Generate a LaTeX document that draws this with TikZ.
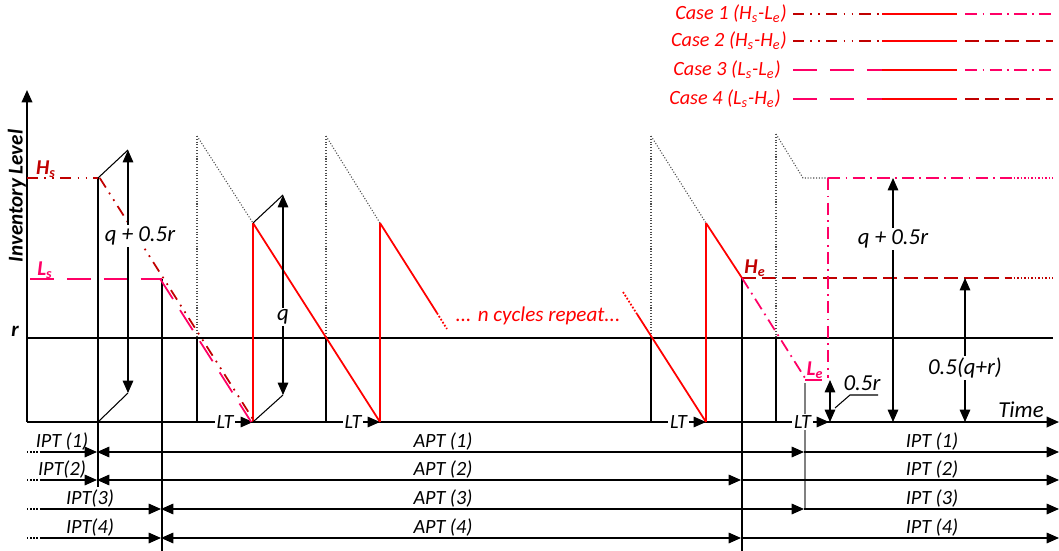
\documentclass[tikz,border=0pt]{standalone}
\usepackage{fontspec}
\setmainfont{Carlito}
\usetikzlibrary{arrows.meta}
\definecolor{hsred}{RGB}{192,0,0}
\definecolor{cyred}{RGB}{255,0,0}
\definecolor{lspink}{RGB}{255,0,102}

\begin{document}
\begin{tikzpicture}[x=0.02cm,y=-0.02cm,
  font=\itshape\fontsize{13}{15}\selectfont,
  axis/.style={line width=1pt},
  thinv/.style={line width=0.6pt},
  rowl/.style={line width=0.8pt},
  guide/.style={black!70,densely dotted,line width=0.6pt},
  cyc/.style={cyred,line width=1pt},
  hsline/.style={hsred,line width=1pt,dash pattern=on 6.4pt off 3.5pt on 1pt off 3.5pt on 1pt off 3.5pt},
  lsline/.style={lspink,line width=1pt,dash pattern=on 13.5pt off 7.5pt},
  heline/.style={hsred,line width=1pt,dash pattern=on 8pt off 3.5pt},
  leline/.style={lspink,line width=1pt,dash pattern=on 7pt off 3pt on 1pt off 3pt},
  solidred/.style={cyred,line width=1pt},
  tip/.style={-{Triangle[length=7pt,width=6pt]}},
  dim/.style={{Triangle[length=7pt,width=6pt]}-{Triangle[length=7pt,width=6pt]}},
  ext/.style={line width=0.6pt},
  lbl/.style={fill=white,inner sep=1pt},
  lt/.style={fill=white,inner sep=1pt,font=\itshape\fontsize{11.5}{13}\selectfont},
  lev/.style={font=\bfseries\itshape\fontsize{12}{14}\selectfont},
  small/.style={font=\itshape\fontsize{11.5}{13}\selectfont}
]
\useasboundingbox (0,0) rectangle (1059,551);

% Axes
\coordinate (O) at (27,422);
\coordinate (ytop) at (27,90);
\coordinate (xend) at (1059,422);
\coordinate (r0) at (27,338);
\coordinate (r1) at (1053,338);
\draw[axis] (r0) -- (r1);
\draw[axis,tip] (O) -- (ytop);
\draw[axis,tip] (O) -- (xend);
\node[lev] (rlab) at (15,331) {r};
\node[lev,rotate=90] (ylab) at (17,196) {Inventory Level};
\node (tlab) at (1021,410) {Time};

% Starting levels
\coordinate (hs0) at (27,178);
\coordinate (hs) at (98,178);
\coordinate (hsb) at (98,487);
\coordinate (ls0) at (30,279);
\coordinate (ls) at (162,279);
\coordinate (lsb) at (162,551);
\draw[thinv] (hs) -- (hsb);
\draw[thinv] (ls) -- (lsb);
\draw[hsline] (hs0) -- (hs);
\draw[lsline] (ls0) -- (ls);
\node[lev,hsred] (hslab) at (46,169) {H\textsubscript{s}};
\node[lev,lspink] (lslab) at (45,270) {L\textsubscript{s}};

% Cycles
\foreach \n/\xr/\xa in {1/197/253, 2/326/380, 3/651/706} {
  \coordinate (top\n) at (\xr,136);
  \coordinate (rp\n) at (\xr,338);
  \coordinate (ro\n) at (\xr,422);
  \coordinate (ar\n) at (\xa,422);
  \coordinate (aq\n) at (\xa,223);
  \draw[guide] (top\n) -- (rp\n);
  \draw[guide] (top\n) -- (aq\n);
  \draw[thinv] (rp\n) -- (ro\n);
  \draw[cyc] (ar\n) -- (aq\n);
  \draw[thinv,tip] (ro\n) -- node[lt] {LT} (ar\n);
}
\draw[hsline] ([xshift=1pt]hs) -- ([xshift=1pt]ar1);
\draw[lsline] ([xshift=-1pt]ls) -- ([xshift=-1pt]ar1);
\draw[cyc] (aq1) -- (ar2);
\coordinate (c2a) at (437,313);
\coordinate (c2b) at (447,329);
\coordinate (c3a) at (623,292);
\coordinate (c3b) at (637,314);
\draw[cyc] (aq2) -- (c2a);
\draw[cyc,densely dotted] (c2a) -- (c2b);
\draw[cyc,densely dotted] (c3a) -- (c3b);
\draw[cyc] (c3b) -- (ar3);
\node[cyred,font=\itshape\fontsize{12}{14}\selectfont] (ncyc) at (538,316) {... n cycles repeat...};

% End levels
\coordinate (he) at (742,278);
\coordinate (heb) at (742,551);
\coordinate (he1) at (1010,278);
\coordinate (he2) at (1053,278);
\coordinate (le) at (805,378);
\coordinate (le1) at (822,380);
\coordinate (lev1) at (805,383);
\coordinate (lev2) at (805,509);
\draw[cyc] (aq3) -- (he);
\draw[thinv] (he) -- (heb);
\draw[heline] (he) -- (he1);
\draw[hsred,line width=1pt,densely dotted] (he1) -- (he2);
\draw[leline] (he) -- (le);
\draw[lspink,line width=1pt] (le |- le1) -- (le1);
\draw[thinv,gray] (lev1) -- (lev2);
\node[lev,hsred] (helab) at (755,268) {H\textsubscript{e}};
\node[lev,lspink] (lelab) at (815,370) {L\textsubscript{e}};

% Last order
\coordinate (top4) at (776,134);
\coordinate (rp4) at (776,338);
\coordinate (ro4) at (776,422);
\coordinate (kn4) at (803,178);
\coordinate (pk0) at (828,178);
\coordinate (pk1) at (1010,178);
\coordinate (pk2) at (1053,178);
\coordinate (pkb) at (828,378);
\coordinate (ar4) at (829,422);
\draw[guide] (top4) -- (rp4);
\draw[guide] (top4) -- (kn4) -- (pk0);
\draw[thinv] (rp4) -- (ro4);
\draw[leline] (pk0) -- (pk1);
\draw[lspink,line width=1pt,densely dotted] (pk1) -- (pk2);
\draw[leline] (pk0) -- (pkb);
\draw[thinv,tip] (ro4) -- node[lt] {LT} (ar4);

% Dimensions
\coordinate (d1t) at (128,150);
\coordinate (d1b) at (128,393);
\draw[ext] (hs) -- (d1t);
\draw[ext] (hs |- O) -- (d1b);
\draw[ext,dim] (d1t) -- (d1b);
\node[lbl] (d1lab) at (140,236) {q + 0.5r};
\coordinate (d2t) at (283,195);
\coordinate (d2b) at (283,395);
\draw[ext] (aq1) -- (d2t);
\draw[ext] (ar1) -- (d2b);
\draw[ext,dim] (d2t) -- node[lbl,pos=0.61] (d2lab) {q} (d2b);
\coordinate (d3t) at (830,380);
\coordinate (d3b) at (830,422);
\coordinate (ld1) at (835,408);
\coordinate (ld2) at (850,395);
\coordinate (ld3) at (878,395);
\draw[ext,dim] (d3t) -- (d3b);
\draw[ext] (ld1) -- (ld2) -- (ld3);
\node (d3lab) at (862,383) {0.5r};
\coordinate (d4t) at (893,178);
\coordinate (d4b) at (893,422);
\draw[ext,dim] (d4t) -- node[lbl,pos=0.25] (d4lab) {q + 0.5r} (d4b);
\coordinate (d5t) at (965,278);
\coordinate (d5b) at (965,422);
\draw[ext,dim] (d5t) -- node[lbl,pos=0.625] (d5lab) {0.5(q+r)} (d5b);

% Period rows
\foreach \i/\y/\a/\b/\ltxt/\lx in {1/452/97/804/{IPT (1)}/62, 2/480/97/741/{IPT(2)}/62,
                                   3/509/161/804/{IPT(3)}/90, 4/538/161/741/{IPT(4)}/90} {
  \coordinate (s\i) at (27,\y);
  \coordinate (t\i) at (40,\y);
  \coordinate (a\i) at (\a,\y);
  \coordinate (b\i) at (\b,\y);
  \coordinate (e\i) at (1059,\y);
  \draw[rowl,densely dotted] (s\i) -- (t\i);
  \draw[rowl,tip] (t\i) -- (a\i);
  \draw[rowl,dim] (a\i) -- (b\i);
  \draw[rowl,tip] (b\i) -- (e\i);
  \node[small] (ipl\i) at (\lx,\y-10) {\ltxt};
  \node[small] (apt\i) at (443,\y-10) {APT (\i)};
  \node[small] (ipr\i) at (932,\y-10) {IPT (\i)};
}

% Legend
\foreach \k/\y/\txt/\sa/\sb/\xe in {
    1/14/{Case 1 (H\textsubscript{s}-L\textsubscript{e})}/hsline/leline/787,
    2/41/{Case 2 (H\textsubscript{s}-H\textsubscript{e})}/hsline/heline/787,
    3/70/{Case 3 (L\textsubscript{s}-L\textsubscript{e})}/lsline/leline/781,
    4/99/{Case 4 (L\textsubscript{s}-H\textsubscript{e})}/lsline/heline/781} {
  \node[small,cyred,anchor=east,inner xsep=0pt] (case\k) at (\xe,\y) {\txt};
  \coordinate (ga\k) at (793,\y);
  \coordinate (gb\k) at (882,\y);
  \coordinate (gc\k) at (957,\y);
  \coordinate (gd\k) at (965,\y);
  \coordinate (ge\k) at (1053,\y);
  \draw[\sa] (ga\k) -- (gb\k);
  \draw[solidred] (gb\k) -- (gc\k);
  \draw[\sb] (gd\k) -- (ge\k);
}
\end{tikzpicture}
\end{document}
